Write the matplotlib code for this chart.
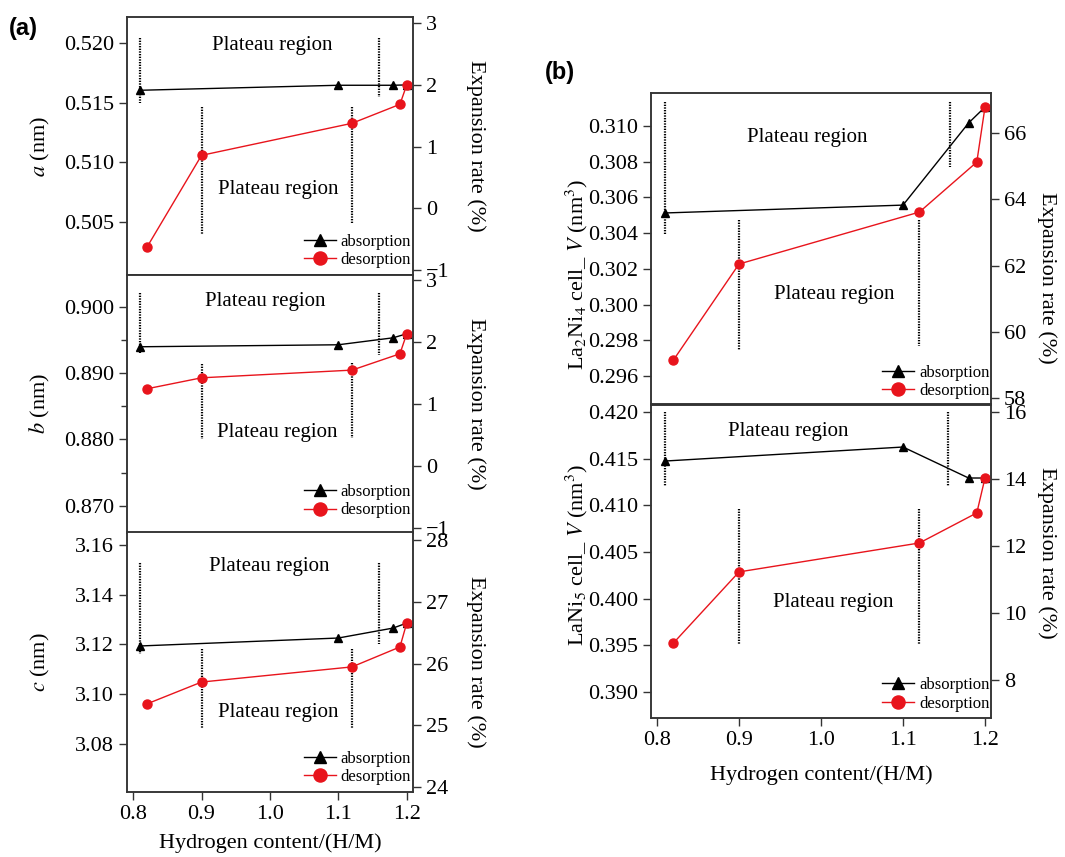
import matplotlib
matplotlib.use('Agg')
import matplotlib.pyplot as plt
from matplotlib.ticker import MultipleLocator

plt.rcParams['font.family'] = ['Liberation Serif', 'DejaVu Serif']
plt.rcParams['mathtext.fontset'] = 'stix'
plt.rcParams['axes.linewidth'] = 1.1
plt.rcParams['axes.edgecolor'] = '#333333'

# hydrogen content (H/M)
x_abs = [0.81, 1.10, 1.18, 1.20]
x_des = [0.82, 0.90, 1.12, 1.19, 1.20]

# lattice parameters (nm)
a_abs = [0.51605, 0.51647, 0.51647, 0.5165]
a_des = [0.50286, 0.51059, 0.51328, 0.51487, 0.5165]
b_abs = [0.89397, 0.89427, 0.89532, 0.89593]
b_des = [0.88763, 0.88929, 0.89045, 0.89291, 0.89593]
c_abs = [3.1194, 3.1226, 3.1266, 3.1286]
c_des = [3.0961, 3.1049, 3.1110, 3.1190, 3.1286]

# cell volumes (nm^3)
v1_abs = [0.30513, 0.30557, 0.31017, 0.31106]
v1_des = [0.29689, 0.30227, 0.30518, 0.30798, 0.31106]
v2_abs = [0.41475, 0.41625, 0.41293, 0.41293]
v2_des = [0.39525, 0.40287, 0.40597, 0.40919, 0.41293]

# plateau boundaries: (x, y_from, y_to)
a_bounds = [(0.81, 0.52042, 0.51496), (1.16, 0.52042, 0.51546),
            (0.90, 0.51462, 0.50395), (1.12, 0.51462, 0.50487)]
b_bounds = [(0.81, 0.90211, 0.89306), (1.16, 0.90211, 0.89276),
            (0.90, 0.89140, 0.88009), (1.12, 0.89155, 0.88024)]
c_bounds = [(0.81, 3.1528, 3.1162), (1.16, 3.1528, 3.1202),
            (0.90, 3.1182, 3.0860), (1.12, 3.1182, 3.0860)]
v1_bounds = [(0.81, 0.31134, 0.30389), (1.157, 0.31134, 0.30770),
             (0.90, 0.30473, 0.29745), (1.12, 0.30473, 0.29768)]
v2_bounds = [(0.81, 0.4200, 0.41208), (1.155, 0.4200, 0.41208),
             (0.90, 0.40961, 0.39505), (1.12, 0.40961, 0.39505)]

# "Plateau region" label anchors (upper, lower)
a_txt = [(1.004, 0.51983), (1.012, 0.50773)]
b_txt = [(0.993, 0.90075), (1.010, 0.8810)]
c_txt = [(0.999, 3.1512), (1.012, 3.0925)]
v1_txt = [(0.983, 0.30938), (1.016, 0.30059)]
v2_txt = [(0.960, 0.41786), (1.015, 0.39955)]

x_ticks = [0.8, 0.9, 1.0, 1.1, 1.2]

fig = plt.figure(figsize=(10.65, 8.57), dpi=100)


def panel(rect, xlim, ylim, yticks, yfmt, minor, rlim, rticks, ya, yd, bounds, txt,
          ylab, ylab_pos, rlab_pos, leg_y, show_x, xlab_y=None):
    ax = fig.add_axes(rect)
    ax.plot(x_abs, ya, color='black', lw=1.0, marker='^', ms=6, label='absorption', zorder=3)
    ax.plot(x_des, yd, color='#e8141c', lw=1.0, marker='o', ms=6.5, label='desorption', zorder=3)
    for xb, y0, y1 in bounds:
        ax.plot([xb, xb], [y0, y1], color='black', lw=1.6, ls=(0, (0.6, 0.6)), zorder=2)
    ax.text(txt[0][0], txt[0][1], 'Plateau region', fontsize=15, ha='center', va='center')
    ax.text(txt[1][0], txt[1][1], 'Plateau region', fontsize=15, ha='center', va='center')
    ax.set_xlim(xlim)
    ax.set_ylim(ylim)
    ax.set_xticks(x_ticks)
    ax.set_yticks(yticks)
    ax.set_yticklabels([yfmt.format(v) for v in yticks])
    if minor:
        ax.yaxis.set_minor_locator(MultipleLocator(minor))
    ax.tick_params(direction='out', length=6, width=1.0, labelsize=16, color='#333333')
    ax.tick_params(which='minor', direction='out', length=4, width=1.0, color='#333333')
    if show_x:
        ax.set_xticklabels(['{:.1f}'.format(v) for v in x_ticks])
        ax.set_xlabel('Hydrogen content/(H/M)', fontsize=16)
        ax.xaxis.set_label_coords(0.5, xlab_y)
    else:
        ax.set_xticklabels([])
    ax.set_ylabel(ylab, fontsize=16)
    ax.yaxis.set_label_coords(*ylab_pos)
    ax.legend(loc='lower right', bbox_to_anchor=(1.0, leg_y), frameon=False, fontsize=12,
              handlelength=1.9, handletextpad=0.3, labelspacing=0.15, borderpad=0.1,
              borderaxespad=0.0, markerscale=1.45)
    tw = ax.twinx()
    tw.set_ylim(rlim)
    tw.set_yticks(rticks)
    tw.tick_params(direction='out', length=6, width=1.0, labelsize=16, color='#333333')
    tw.set_ylabel('Expansion rate (%)', fontsize=16, rotation=270, va='center')
    tw.yaxis.set_label_coords(*rlab_pos)
    return ax


xl_a = (0.791, 1.209)
panel([0.1192, 0.6791, 0.2685, 0.3011], xl_a, (0.50055, 0.5222),
      [0.505, 0.510, 0.515, 0.520], '{:.3f}', None, (-1.08, 3.1), [-1, 0, 1, 2, 3],
      a_abs, a_des, a_bounds, a_txt, '$a$ (nm)', (-0.262, 0.5), (1.22, 0.5), 0.02, False)
panel([0.1192, 0.3781, 0.2685, 0.3011], xl_a, (0.8659, 0.9048),
      [0.870, 0.880, 0.890, 0.900], '{:.3f}', 0.005, (-1.08, 3.08), [-1, 0, 1, 2, 3],
      b_abs, b_des, b_bounds, b_txt, '$b$ (nm)', (-0.262, 0.5), (1.22, 0.5), 0.05, False)
panel([0.1192, 0.0758, 0.2685, 0.3034], xl_a, (3.0607, 3.1652),
      [3.08, 3.10, 3.12, 3.14, 3.16], '{:.2f}', None, (23.92, 28.13), [24, 25, 26, 27, 28],
      c_abs, c_des, c_bounds, c_txt, '$c$ (nm)', (-0.262, 0.5), (1.22, 0.5), 0.02, True, -0.16)

xl_b = (0.7927, 1.2073)
panel([0.6113, 0.5286, 0.3192, 0.3629], xl_b, (0.29443, 0.31185),
      [0.296, 0.298, 0.300, 0.302, 0.304, 0.306, 0.308, 0.310], '{:.3f}', None,
      (57.82, 67.21), [58, 60, 62, 64, 66],
      v1_abs, v1_des, v1_bounds, v1_txt, 'La$_2$Ni$_4$ cell_ $V$ (nm$^3$)',
      (-0.18, 0.415), (1.165, 0.405), 0.01, False)
panel([0.6113, 0.1622, 0.3192, 0.3652], xl_b, (0.38722, 0.42075),
      [0.390, 0.395, 0.400, 0.405, 0.410, 0.415, 0.420], '{:.3f}', None,
      (6.87, 16.21), [8, 10, 12, 14, 16],
      v2_abs, v2_des, v2_bounds, v2_txt, 'LaNi$_5$ cell_ $V$ (nm$^3$)',
      (-0.18, 0.52), (1.165, 0.527), 0.015, True, -0.15)

fig.text(0.008, 0.967, '(a)', fontsize=17, fontweight='bold', family='Liberation Sans', va='center')
fig.text(0.512, 0.915, '(b)', fontsize=17, fontweight='bold', family='Liberation Sans', va='center')

fig.savefig('out.png', dpi=100)
